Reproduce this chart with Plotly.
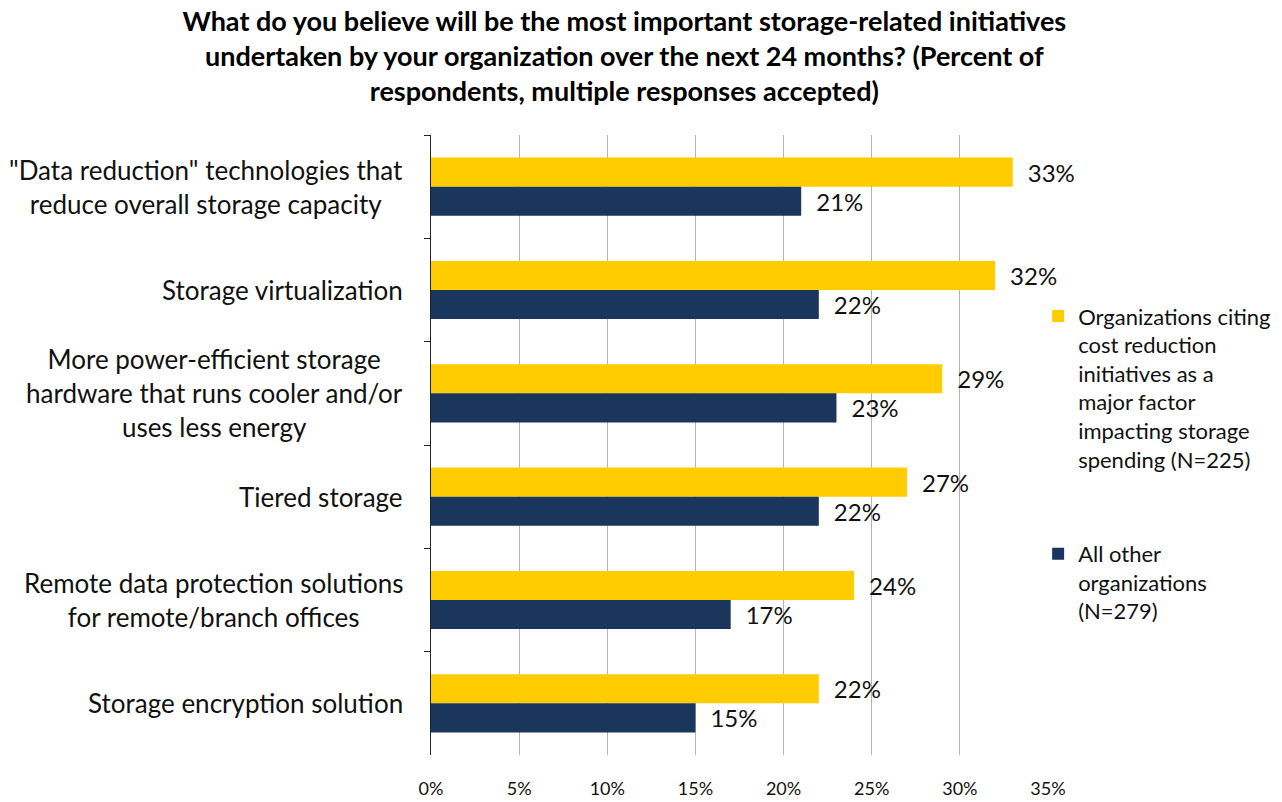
import plotly.graph_objects as go

# Survey categories, listed top to bottom
categories = [
    '"Data reduction" technologies that<br>reduce overall storage capacity',
    "Storage virtualization",
    "More power-efficient storage<br>hardware that runs cooler and/or<br>uses less energy",
    "Tiered storage",
    "Remote data protection solutions<br>for remote/branch offices",
    "Storage encryption solution",
]
cost_reduction_pct = [33, 32, 29, 27, 24, 22]
other_orgs_pct = [21, 22, 23, 22, 17, 15]

series_names = [
    "Organizations citing<br>cost reduction<br>initiatives as a<br>major factor<br>impacting storage<br>spending (N=225)",
    "All other<br>organizations<br>(N=279)",
]
series_colors = ["#FFCC00", "#1B365D"]

x_ticks = [0, 5, 10, 15, 20, 25, 30, 35]
x_tick_labels = [f"{v}%" for v in x_ticks]

FONT = "Lato, 'Open Sans', sans-serif"

fig = go.Figure()
for i, (name, vals, color) in enumerate(
    [(series_names[0], cost_reduction_pct, series_colors[0]),
     (series_names[1], other_orgs_pct, series_colors[1])]
):
    fig.add_trace(go.Bar(
        y=categories,
        x=vals,
        orientation="h",
        name=name,
        legendgroup=f"g{i}",
        marker=dict(color=color, line=dict(width=0)),
        text=[f"\u2002{v}%" for v in vals],
        textposition="outside",
        textfont=dict(family=FONT, size=24, color="#111111"),
        cliponaxis=False,
        hoverinfo="x+y",
    ))

# Category labels, centred line by line to the left of the axis
for cat in categories:
    fig.add_annotation(
        x=0, xref="paper", y=cat, yref="y",
        text=cat, showarrow=False,
        xanchor="right", yanchor="middle", align="center",
        xshift=-26,
        font=dict(family=FONT, size=26, color="#111111"),
    )

fig.update_layout(
    width=1282, height=802,
    paper_bgcolor="white", plot_bgcolor="white",
    margin=dict(l=431, r=234, t=135, b=47, autoexpand=False),
    barmode="group", bargap=0.437, bargroupgap=0,
    title=dict(
        text="What do you believe will be the most important storage-related initiatives<br>"
             "undertaken by your organization over the next 24 months? (Percent of<br>"
             "respondents, multiple responses accepted)",
        x=0.487, xanchor="center", y=0.961, yanchor="middle",
        font=dict(family=FONT, size=27, color="#000000", weight="bold"),
    ),
    legend=dict(
        x=0.984, xanchor="left", y=0.7415, yanchor="top",
        traceorder="grouped", tracegroupgap=63,
        valign="top",
        font=dict(family=FONT, size=22, color="#111111"),
        bgcolor="rgba(0,0,0,0)",
        itemclick=False, itemdoubleclick=False,
    ),
    xaxis=dict(
        range=[0, 35],
        tickvals=x_ticks, ticktext=x_tick_labels,
        showgrid=True, gridcolor="#b3b3b3", gridwidth=1,
        zeroline=False, showline=False,
        ticks="", ticklabelstandoff=21,
        tickfont=dict(family=FONT, size=18, color="#111111"),
        automargin=False,
        fixedrange=True,
    ),
    yaxis=dict(
        autorange="reversed",
        showticklabels=False,
        showline=True, linecolor="#222222", linewidth=1,
        ticks="outside", ticklen=6, tickcolor="#222222",
        tickson="boundaries",
        showgrid=False,
        automargin=False,
        fixedrange=True,
    ),
    showlegend=True,
)

fig.write_html("out.html", config={"displayModeBar": False})
